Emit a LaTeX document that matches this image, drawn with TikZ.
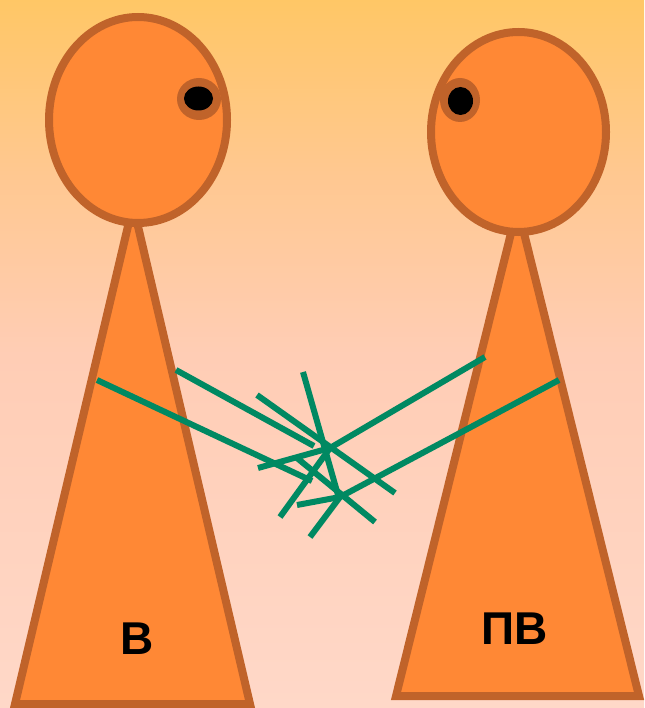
\documentclass[tikz,border=0pt]{standalone}
\usepackage{fontspec}
\setmainfont{Liberation Sans}
\definecolor{skin}{RGB}{255,136,53}
\definecolor{rim}{RGB}{192,99,42}
\definecolor{armgreen}{RGB}{0,137,98}
\definecolor{skytop}{RGB}{255,199,102}
\definecolor{skyhigh}{RGB}{255,200,145}
\definecolor{skymid}{RGB}{255,205,181}
\definecolor{skybot}{RGB}{255,216,200}
% sky gradient: the path spans 25bp..75bp of the shading
\pgfdeclareverticalshading{sky}{100bp}{color(0bp)=(skybot); color(25bp)=(skybot);
  color(50bp)=(skymid); color(62.5bp)=(skyhigh); color(75bp)=(skytop); color(100bp)=(skytop)}
\begin{document}
\begin{tikzpicture}[x=1pt,y=-1pt,
  body/.style={fill=skin,draw=rim,line width=8pt},
  eyering/.style={fill=rim},
  pupil/.style={fill=black},
  arm/.style={draw=armgreen,line width=6pt},
  label/.style={inner sep=0pt,font=\bfseries\fontsize{46}{46}\selectfont}]
% backdrop
\shade[shading=sky] (0,0) rectangle (644,708);
\useasboundingbox (0,0) rectangle (644,708);

% bodies
\draw[body] (133,205) -- (15,704) -- (250,704) -- cycle;
\draw[body] (517.5,207) -- (396,696) -- (639,696) -- cycle;

% heads
\draw[body] (138,120) ellipse [x radius=89, y radius=103];
\draw[body] (518.5,132) ellipse [x radius=87.5, y radius=100];

% eyes
\fill[eyering] (199,99) ellipse [x radius=22, y radius=21];
\fill[pupil] (198.5,98.5) ellipse [x radius=14.5, y radius=12];
\fill[eyering] (460,100) ellipse [x radius=20, y radius=22];
\fill[pupil] (460.5,101) ellipse [x radius=12.5, y radius=14];

% left figure: arms and fingers
\coordinate (lsh1) at (176,370);
\coordinate (lwr1) at (314,446);
\coordinate (lsh2) at (97,380);
\coordinate (lwr2) at (312,481);
\draw[arm] (lsh1) -- (lwr1);
\draw[arm] (lsh2) -- (lwr2);
\coordinate (lf1a) at (257,395);
\coordinate (lf1b) at (395,493);
\coordinate (lf2a) at (303,372);
\coordinate (lf2b) at (338,495);
\coordinate (lf3a) at (297,458);
\coordinate (lf3b) at (375,522);
\draw[arm] (lf1a) -- (lf1b);
\draw[arm] (lf2a) -- (lf2b);
\draw[arm] (lf3a) -- (lf3b);

% right figure: arms and fingers
\coordinate (rsh1) at (485,357);
\coordinate (rwr1) at (330,448);
\coordinate (rsh2) at (559,380);
\coordinate (rwr2) at (340,497);
\draw[arm] (rsh1) -- (rwr1);
\draw[arm] (rsh2) -- (rwr2);
\coordinate (rf1) at (258,468);
\coordinate (rf2) at (280,517);
\coordinate (rf3) at (297,505);
\coordinate (rf4) at (310,537);
\draw[arm] (rwr1) -- (rf1);
\draw[arm] (rwr1) -- (rf2);
\draw[arm] (rwr2) -- (rf3);
\draw[arm] (rwr2) -- (rf4);

% names
\node[label] (nameL) at (137.5,638.5) {В};
\node[label] (nameR) at (514.5,628.5) {ПВ};
\end{tikzpicture}
\end{document}
